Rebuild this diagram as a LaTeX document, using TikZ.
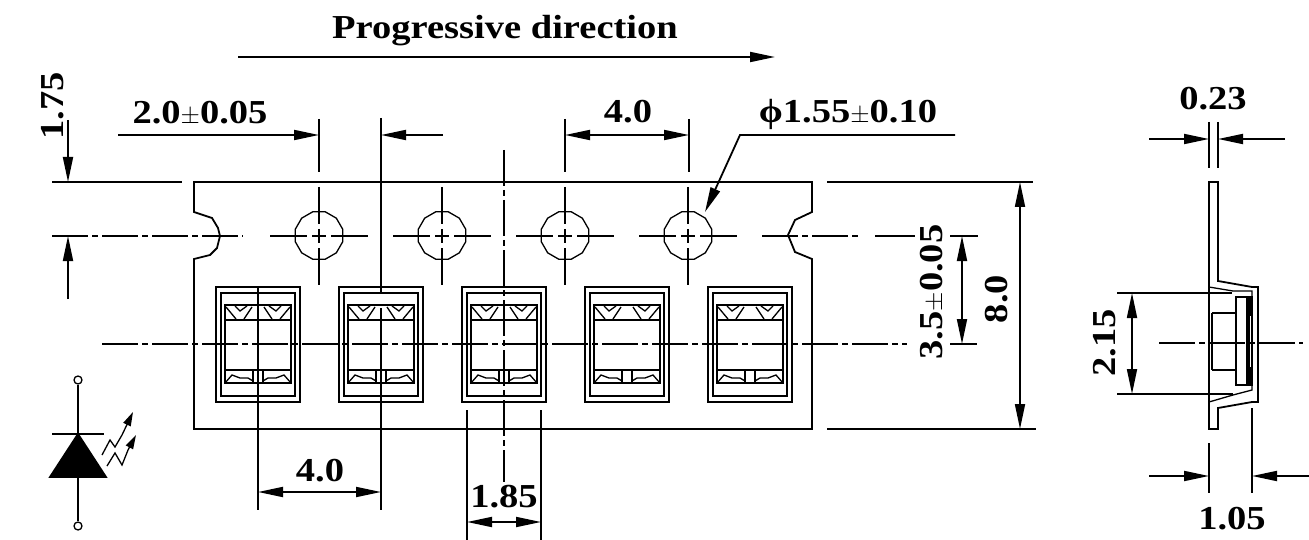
\documentclass[tikz,border=0pt]{standalone}
\usepackage{fontspec}
\setmainfont[FakeStretch=1.15]{Liberation Serif}
\usetikzlibrary{arrows.meta,shapes.geometric}

\begin{document}
\begin{tikzpicture}[x=1pt, y=-1pt, line width=1.8pt, >={Triangle[length=25pt,width=10pt]}]
\tikzstyle{dimtext}=[font=\bfseries\fontsize{33.5}{33.5}\selectfont, inner sep=0pt];
\tikzstyle{thinline}=[line width=1.3pt];
\tikzstyle{holecross}=[line width=1.8pt, dash pattern=on 37pt off 5pt on 14pt off 5pt on 37pt off 100pt];
\tikzstyle{centerline}=[line width=1.8pt, dash pattern=on 36pt off 4pt on 6pt off 4pt];
\tikzstyle{hole}=[draw, regular polygon, regular polygon sides=12, minimum size=49pt, inner sep=0pt, line width=1.3pt];
\useasboundingbox (0,0) rectangle (1309,540);

\draw (194,212) -- (194,182) -- (812,182) -- (812,212) -- (795,220) -- (788,235) -- (795,252) -- (812,259) -- (812,429) -- (194,429) -- (194,259) -- (210,255) -- (217,248) -- (220,236) -- (218,228) -- (212,218) -- cycle;

\foreach \i/\x in {1/319,2/442,3/565,4/688}
{
\path (\x,235.5) node[hole] (h\i) {};
\draw[holecross] (\x-49,236) -- (\x+49,236);
\draw[holecross] (\x,187) -- (\x,285);
}
\draw[centerline] (52,236) -- (243,236);
\draw[centerline] (762,236) -- (860,236);
\draw (875,236) -- (915,236);

\foreach \i/\x in {1/258,2/381,3/504,4/627,5/750}
{
\draw (\x-42,287) rectangle (\x+42,402);
\draw (\x-37,293) rectangle (\x+37,396);
\draw (\x-33,305) rectangle (\x+33,383);
\draw[thinline] (\x-33,320) -- (\x+33,320) (\x-33,370) -- (\x+33,370);
\draw[thinline] (\x-5,370) -- (\x-5,383) (\x+5,370) -- (\x+5,383);
\foreach \s in {-1,1}
{
\draw[thinline] (\x+\s*32,307) -- (\x+\s*22,319) (\x+\s*14,319) -- (\x+\s*6,307);
\draw[thinline] (\x+\s*23,306) -- (\x+\s*18,311) -- (\x+\s*11,306);
\draw[thinline] (\x+\s*33,383) -- (\x+\s*26,375) -- (\x+\s*18,378) -- (\x+\s*10,378) -- (\x+\s*5,381);
}
}

\draw[centerline] (102,344) -- (907,344);
\draw[centerline] (504,150) -- (504,482);
\draw (258,287) -- (258,510);
\draw (381,118) -- (381,293) (381,308) -- (381,510);
\draw (467,410) -- (467,540) (541,410) -- (541,540);
\draw (319,119) -- (319,172) (565,119) -- (565,172) (689,119) -- (689,172);
\draw (52,182) -- (182,182);

\draw[->] (118,135) -- (319,135);
\draw[->] (443,135) -- (381,135);
\draw[<->] (565,135) -- (689,135);
\draw[->] (238,57) -- (775,57);
\draw[->] (68,120) -- (68,182);
\draw[->] (68,299) -- (68,236);
\draw[<->] (258,492) -- (381,492);
\draw[<->] (467,522) -- (541,522);
\draw[->] (955,135) -- (740,135) -- (705,212);

\draw (827,182) -- (1033,182) (827,429) -- (1036,429);
\draw (950,236) -- (978,236) (950,344) -- (977,344);
\draw[<->] (1020,182) -- (1020,429);
\draw[<->] (962,236) -- (962,344);

\path (505,31) node[dimtext] (title) {Progressive direction};
\path (200,113) node[dimtext] (d20) {2.0$\pm$0.05};
\path (628,112) node[dimtext] (d40a) {4.0};
\path (848,114) node[dimtext] (dphi) {ϕ1.55$\pm$0.10};
\path (53,106) node[dimtext, rotate=90] (d175) {1.75};
\path (320,471) node[dimtext] (d40b) {4.0};
\path (504,497) node[dimtext] (d185) {1.85};
\path (932,292) node[dimtext, rotate=90] (d35) {3.5$\pm$0.05};
\path (997,299) node[dimtext, rotate=90] (d80) {8.0};

\draw (1218,182) -- (1218,281) -- (1252,287) -- (1258,287) -- (1258,402) -- (1252,402) -- (1218,408) -- (1218,429) -- (1209,429) -- (1209,182) -- cycle;
\draw[thinline] (1209,287) -- (1233,291) -- (1252,291) -- (1252,390) -- (1233,395) -- (1209,402);
\draw[line width=2.5pt] (1212,313) -- (1212,370);
\draw[thinline] (1212,313) -- (1235,313) (1212,370) -- (1235,370);
\draw (1236,297) rectangle (1247,385);
\draw[fill=black] (1248,297) rectangle (1252,385);
\draw[white, line width=1pt] (1250,316) -- (1250,367);
\draw (1117,293) -- (1232,293) (1117,394) -- (1233,394);
\draw[centerline] (1159,343) -- (1303,343);
\draw[<->] (1132,293) -- (1132,394);
\draw (1209,122) -- (1209,168) (1218,122) -- (1218,168);
\draw[->] (1149,139) -- (1209,139);
\draw[->] (1285,139) -- (1218,139);
\draw (1209,443) -- (1209,493) (1252,408) -- (1252,493);
\draw[->] (1149,476) -- (1209,476);
\draw[->] (1309,476) -- (1252,476);
\path (1213,99) node[dimtext] (d023) {0.23};
\path (1105,343) node[dimtext, rotate=90] (d215) {2.15};
\path (1232,519) node[dimtext] (d105) {1.05};

\path (78,380) node[draw, circle, fill=white, minimum size=8pt, inner sep=0pt, thinline] (anode) {};
\path (78,526) node[draw, circle, fill=white, minimum size=8pt, inner sep=0pt, thinline] (cathode) {};
\draw[line width=2.5pt] (anode) -- (cathode);
\draw[line width=2.5pt] (52,434) -- (104,434);
\draw[fill=black] (78,434) -- (106,477) -- (50,477) -- cycle;
\draw[thinline, ->, >={Triangle[length=14pt,width=8pt]}] (102,455) -- (110,440) -- (115,447) -- (122,435) -- (133,412);
\draw[thinline, ->, >={Triangle[length=14pt,width=8pt]}] (107,466) -- (115,453) -- (122,465) -- (128,450) -- (136,435);
\end{tikzpicture}
\end{document}
